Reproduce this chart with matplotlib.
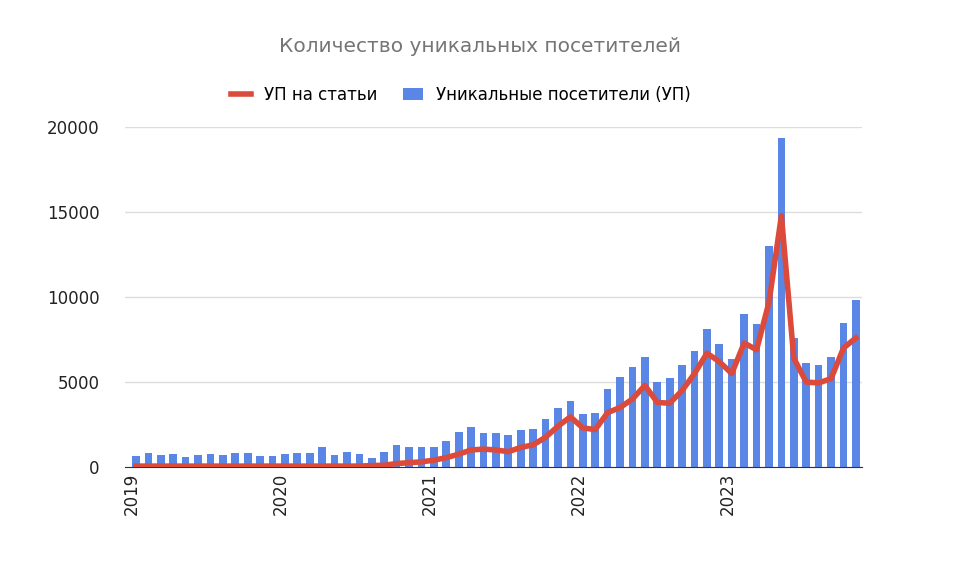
import numpy as np
import matplotlib.pyplot as plt

visitors = [650, 850, 700, 750, 600, 700, 750, 700, 800, 850, 650, 650,
            750, 850, 800, 1150, 700, 900, 750, 500, 900, 1300, 1200, 1200,
            1150, 1500, 2050, 2350, 2000, 2000, 1900, 2200, 2250, 2800, 3500, 3900,
            3100, 3150, 4600, 5300, 5900, 6450, 5000, 5250, 6000, 6800, 8150, 7250,
            6350, 9000, 8400, 13000, 19400, 7600, 6150, 6000, 6450, 8500, 9850]
articles = [50, 50, 50, 50, 50, 50, 50, 50, 50, 50, 50, 50,
            50, 50, 50, 50, 50, 50, 50, 80, 100, 200, 250, 300,
            400, 550, 750, 1000, 1050, 1000, 900, 1150, 1300, 1750, 2400, 2950,
            2300, 2200, 3200, 3500, 4000, 4800, 3800, 3750, 4500, 5500, 6700, 6200,
            5500, 7300, 6900, 9700, 14800, 6400, 5000, 4950, 5200, 7000, 7600]
years = ['2019', '2020', '2021', '2022', '2023']

x = np.arange(len(visitors))
fig = plt.figure(figsize=(9.6, 5.66), dpi=100)
ax = fig.add_axes([0.13, 0.175, 0.768, 0.6])

ax.bar(x, visitors, width=0.62, color='#5a86e6', label='Уникальные посетители (УП)', zorder=2)
ax.plot(x, articles, color='#dc4a3b', lw=4, label='УП на статьи', zorder=3, solid_joinstyle='round')

ax.set_xlim(-0.9, len(visitors) - 0.5)
ax.set_ylim(0, 20000)
ax.set_yticks([0, 5000, 10000, 15000, 20000])
ax.set_xticks(np.arange(0, 60, 12) - 0.3)
ax.set_xticklabels(years, rotation=90, fontsize=12, color='#222222')
ax.tick_params(axis='y', labelsize=12, colors='#222222', length=0, pad=18)
ax.tick_params(axis='x', length=0, pad=4)
ax.grid(axis='y', color='#dddddd', lw=1, zorder=0)
for s in ['top', 'right', 'left']:
    ax.spines[s].set_visible(False)
ax.spines['bottom'].set_color('#333333')

fig.suptitle('Количество уникальных посетителей', y=0.935, fontsize=14.5, color='#757575')
fig.legend(loc='upper center', bbox_to_anchor=(0.48, 0.875), ncol=2, frameon=False,
           fontsize=12, handlelength=1.2, columnspacing=1.5)
fig.savefig('out.png')
